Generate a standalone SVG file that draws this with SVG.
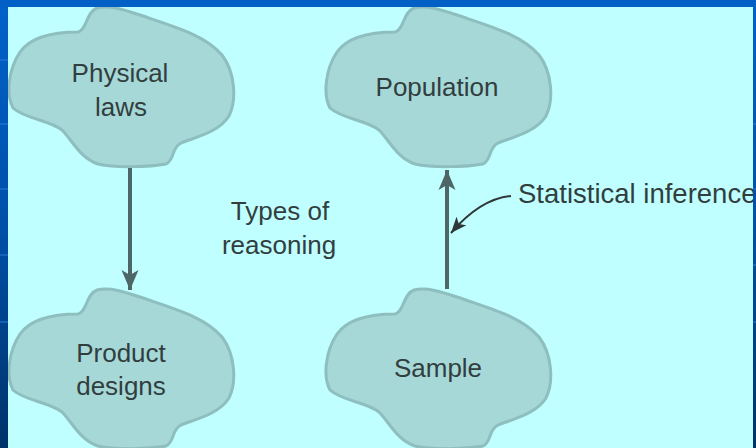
<svg xmlns="http://www.w3.org/2000/svg" xmlns:xlink="http://www.w3.org/1999/xlink" width="756" height="448" viewBox="0 0 756 448">
  <defs>
    <linearGradient id="frameGrad" x1="0" y1="0" x2="0" y2="1">
      <stop offset="0" stop-color="#0062CA"/>
      <stop offset="0.5" stop-color="#0050A8"/>
      <stop offset="1" stop-color="#00336A"/>
    </linearGradient>
    <clipPath id="panelClip">
      <rect x="8" y="7" width="745" height="441"/>
    </clipPath>
    <!-- blob outline shared by all four nodes -->
    <path id="cloud" d="M 97 8 C 110 5 125 10 140 15 C 175 27 205 35 222 55 C 235 72 237 100 229 116 C 219 132 196 137 181 143 C 171 148 175 160 166 164 C 150 167 115 168 98 164 C 80 158 72 140 62 130 C 50 120 25 119 13 108 C 6 95 8 70 20 52 C 30 38 50 32 78 32 C 87 30 86 12 97 8 Z"/>
    <marker id="head" viewBox="0 0 20 20" refX="20" refY="10" markerWidth="20" markerHeight="20" markerUnits="userSpaceOnUse" orient="auto">
      <path d="M 0 1.5 L 20 10 L 0 18.5 L 5 10 Z" fill="#4F6666"/>
    </marker>
    <marker id="headThin" viewBox="0 0 16 14" refX="16" refY="7" markerWidth="16" markerHeight="14" markerUnits="userSpaceOnUse" orient="auto">
      <path d="M 0 0.5 L 16 7 L 0 13.5 L 4 7 Z" fill="#2E3838"/>
    </marker>
  </defs>
  <style>
    .blob { fill: #A6D8D8; stroke: #8EBEBE; stroke-width: 3; }
    .label { font-family: "Liberation Sans", Arial, sans-serif; font-size: 26px; fill: #323E3E; text-anchor: middle; }
    .flow { fill: none; stroke: #4F6666; stroke-width: 4; }
    .pointer { fill: none; stroke: #2E3838; stroke-width: 2; }
    .seam { stroke: #2A7AD8; stroke-width: 1; }
  </style>

  <!-- slide frame -->
  <rect x="0" y="0" width="756" height="448" fill="url(#frameGrad)"/>
  <rect x="0" y="0" width="756" height="7" fill="#0060C6"/>
  <g class="seam">
    <line x1="0" y1="60" x2="8" y2="60"/>
    <line x1="0" y1="124" x2="8" y2="124"/>
    <line x1="0" y1="189" x2="8" y2="189"/>
    <line x1="0" y1="255" x2="8" y2="255"/>
    <line x1="0" y1="322" x2="8" y2="322"/>
    <line x1="753" y1="124" x2="756" y2="124"/>
    <line x1="753" y1="189" x2="756" y2="189"/>
    <line x1="753" y1="265" x2="756" y2="265"/>
    <line x1="753" y1="322" x2="756" y2="322"/>
  </g>
  <rect x="8" y="7" width="745" height="441" fill="#BFFFFF"/>

  <g clip-path="url(#panelClip)">
    <g id="physical-laws">
      <use xlink:href="#cloud" class="blob"/>
      <text class="label" x="120" y="82">Physical</text>
      <text class="label" x="121" y="116">laws</text>
    </g>

    <g id="product-designs">
      <use xlink:href="#cloud" class="blob" transform="translate(0 282)"/>
      <text class="label" x="121" y="362">Product</text>
      <text class="label" x="121" y="395">designs</text>
    </g>

    <g id="population">
      <use xlink:href="#cloud" class="blob" transform="translate(317 0)"/>
      <text class="label" x="437" y="96">Population</text>
    </g>

    <g id="sample">
      <use xlink:href="#cloud" class="blob" transform="translate(317 282)"/>
      <text class="label" x="438" y="377">Sample</text>
    </g>

    <g id="types-of-reasoning">
      <text class="label" x="280" y="220">Types of</text>
      <text class="label" x="279" y="254">reasoning</text>
    </g>

    <g id="connectors">
      <line class="flow" x1="130" y1="168" x2="130" y2="290" marker-end="url(#head)"/>
      <line class="flow" x1="447" y1="289" x2="447" y2="170" marker-end="url(#head)"/>
      <path class="pointer" d="M 511 196 C 489 198 470 211 451 233" marker-end="url(#headThin)"/>
    </g>

    <g id="statistical-inference">
      <text class="label" x="518" y="203" style="text-anchor:start;font-size:27.5px">Statistical inference</text>
    </g>
  </g>
</svg>
